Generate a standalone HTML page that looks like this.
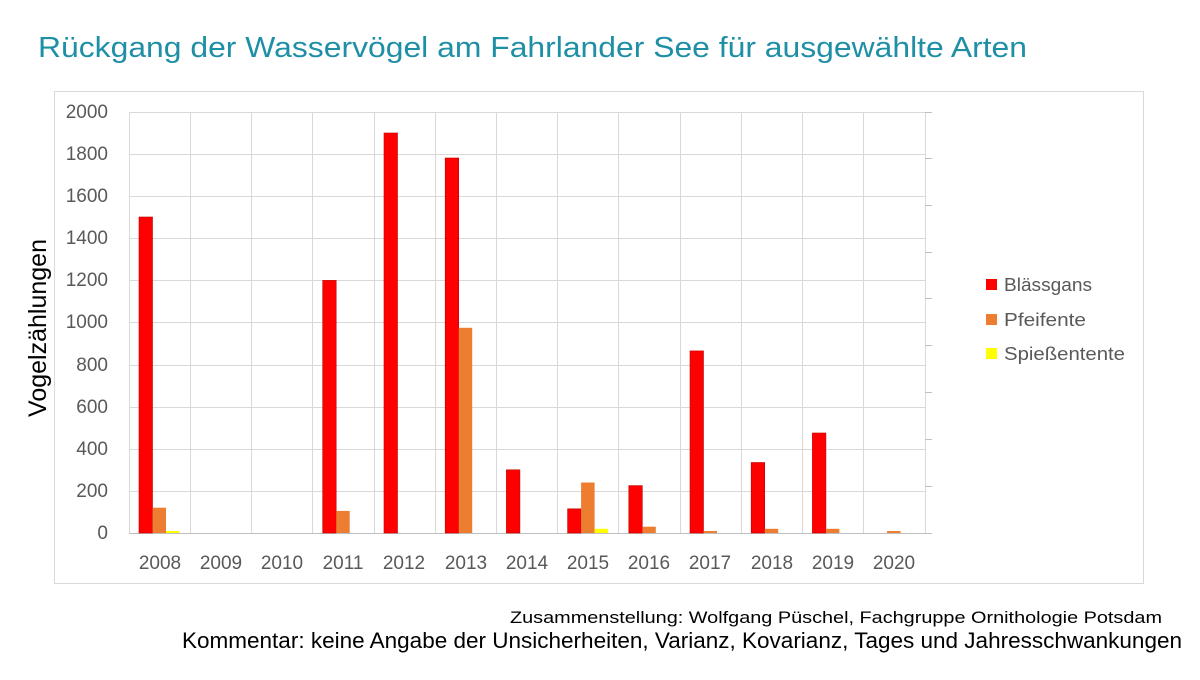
<!DOCTYPE html>
<html><head><meta charset="utf-8"><style>
body{margin:0;background:#fff;width:1200px;height:675px;overflow:hidden;font-family:"Liberation Sans",sans-serif}
</style></head><body>
<svg width="1200" height="675" xmlns="http://www.w3.org/2000/svg" font-family="Liberation Sans, sans-serif">
<text x="38" y="57" font-size="29" fill="#1f8fa6" textLength="989" lengthAdjust="spacingAndGlyphs">Rückgang der Wasservögel am Fahrlander See für ausgewählte Arten</text>
<rect x="54.5" y="91.5" width="1089" height="492" fill="#fff" stroke="#d9d9d9"/>
<g stroke="#d9d9d9" stroke-width="1">
<line x1="129" y1="112.5" x2="925" y2="112.5"/>
<line x1="129" y1="154.5" x2="925" y2="154.5"/>
<line x1="129" y1="196.5" x2="925" y2="196.5"/>
<line x1="129" y1="238.5" x2="925" y2="238.5"/>
<line x1="129" y1="280.5" x2="925" y2="280.5"/>
<line x1="129" y1="322.5" x2="925" y2="322.5"/>
<line x1="129" y1="365.5" x2="925" y2="365.5"/>
<line x1="129" y1="407.5" x2="925" y2="407.5"/>
<line x1="129" y1="449.5" x2="925" y2="449.5"/>
<line x1="129" y1="491.5" x2="925" y2="491.5"/>
<line x1="129.5" y1="112" x2="129.5" y2="533"/>
<line x1="190.5" y1="112" x2="190.5" y2="533"/>
<line x1="251.5" y1="112" x2="251.5" y2="533"/>
<line x1="312.5" y1="112" x2="312.5" y2="533"/>
<line x1="374.5" y1="112" x2="374.5" y2="533"/>
<line x1="435.5" y1="112" x2="435.5" y2="533"/>
<line x1="496.5" y1="112" x2="496.5" y2="533"/>
<line x1="557.5" y1="112" x2="557.5" y2="533"/>
<line x1="618.5" y1="112" x2="618.5" y2="533"/>
<line x1="680.5" y1="112" x2="680.5" y2="533"/>
<line x1="741.5" y1="112" x2="741.5" y2="533"/>
<line x1="802.5" y1="112" x2="802.5" y2="533"/>
<line x1="863.5" y1="112" x2="863.5" y2="533"/>
<line x1="925.5" y1="112" x2="925.5" y2="533"/>
</g>
<g stroke="#bfbfbf">
<line x1="129" y1="533.5" x2="932" y2="533.5"/>
<line x1="925" y1="158.5" x2="932" y2="158.5"/><line x1="925" y1="205.5" x2="932" y2="205.5"/>
<line x1="925" y1="252.5" x2="932" y2="252.5"/><line x1="925" y1="298.5" x2="932" y2="298.5"/>
<line x1="925" y1="345.5" x2="932" y2="345.5"/><line x1="925" y1="392.5" x2="932" y2="392.5"/>
<line x1="925" y1="439.5" x2="932" y2="439.5"/><line x1="925" y1="486.5" x2="932" y2="486.5"/>
<line x1="925" y1="112.5" x2="932" y2="112.5"/>
</g>
<g fill="#ff0000" stroke="#c00000" stroke-width="0.6">
<rect x="139" y="217" width="13.5" height="316"/>
<rect x="322.7" y="280.4" width="13.5" height="252.6"/>
<rect x="384" y="133" width="13.5" height="400"/>
<rect x="445.2" y="158" width="13.5" height="375"/>
<rect x="506.4" y="469.8" width="13.5" height="63.2"/>
<rect x="567.6" y="508.8" width="13.5" height="24.2"/>
<rect x="628.8" y="485.6" width="13.5" height="47.4"/>
<rect x="690" y="350.9" width="13.5" height="182.1"/>
<rect x="751.2" y="462.5" width="13.5" height="70.5"/>
<rect x="812.4" y="433" width="13.5" height="100"/>
</g>
<g fill="#ed7d31">
<rect x="152.5" y="507.7" width="13.5" height="25.3"/>
<rect x="336.2" y="510.9" width="13.5" height="22.1"/>
<rect x="458.7" y="327.8" width="13.5" height="205.2"/>
<rect x="581.1" y="482.5" width="13.5" height="50.5"/>
<rect x="642.3" y="526.7" width="13.5" height="6.3"/>
<rect x="703.5" y="531" width="13.5" height="2"/>
<rect x="764.7" y="528.8" width="13.5" height="4.2"/>
<rect x="825.9" y="528.8" width="13.5" height="4.2"/>
<rect x="887.1" y="531" width="13.5" height="2"/>
</g>
<g fill="#ffff00">
<rect x="166" y="531" width="13.5" height="2"/>
<rect x="594.6" y="528.8" width="13.5" height="4.2"/>
</g>
<g font-size="19" fill="#595959" text-anchor="end">
<text x="108" y="118">2000</text><text x="108" y="160">1800</text><text x="108" y="202">1600</text>
<text x="108" y="244">1400</text><text x="108" y="286">1200</text><text x="108" y="328">1000</text>
<text x="108" y="371">800</text><text x="108" y="413">600</text><text x="108" y="455">400</text>
<text x="108" y="497">200</text><text x="108" y="539">0</text>
</g>
<g font-size="19" fill="#595959" text-anchor="middle">
<text x="160" y="569">2008</text><text x="221" y="569">2009</text><text x="282" y="569">2010</text>
<text x="343" y="569">2011</text><text x="404" y="569">2012</text><text x="466" y="569">2013</text>
<text x="527" y="569">2014</text><text x="588" y="569">2015</text><text x="649" y="569">2016</text>
<text x="710" y="569">2017</text><text x="772" y="569">2018</text><text x="833" y="569">2019</text>
<text x="894" y="569">2020</text>
</g>
<text transform="translate(46,328) rotate(-90)" font-size="25" fill="#000" text-anchor="middle">Vogelzählungen</text>
<rect x="986" y="279" width="11" height="11" fill="#ff0000"/>
<rect x="986" y="314" width="11" height="11" fill="#ed7d31"/>
<rect x="986" y="348" width="11" height="11" fill="#ffff00"/>
<g font-size="18" fill="#595959">
<text x="1004" y="291" textLength="88" lengthAdjust="spacingAndGlyphs">Blässgans</text>
<text x="1004" y="326" textLength="82" lengthAdjust="spacingAndGlyphs">Pfeifente</text>
<text x="1004" y="360" textLength="121" lengthAdjust="spacingAndGlyphs">Spießentente</text>
</g>
<text x="510" y="623" font-size="17" fill="#000" textLength="652" lengthAdjust="spacingAndGlyphs">Zusammenstellung: Wolfgang Püschel, Fachgruppe Ornithologie Potsdam</text>
<text x="182" y="648" font-size="22" fill="#000" textLength="1000" lengthAdjust="spacingAndGlyphs">Kommentar: keine Angabe der Unsicherheiten, Varianz, Kovarianz, Tages und Jahresschwankungen</text>
</svg>
</body></html>
